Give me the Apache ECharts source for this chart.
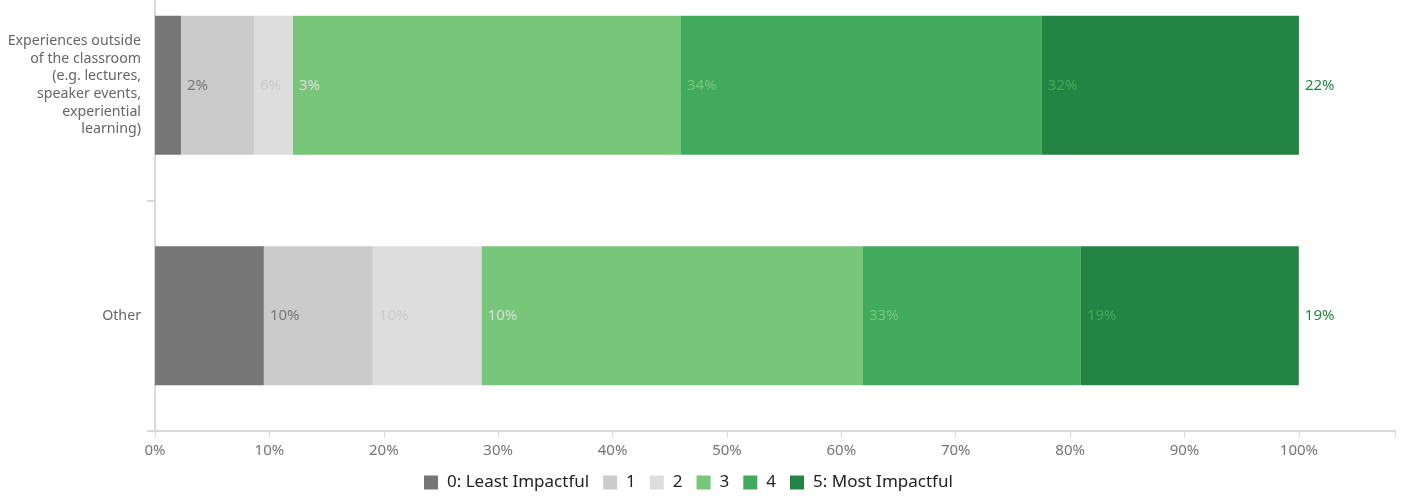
<!DOCTYPE html>
<html>
<head>
<meta charset="utf-8">
<script src="https://cdn.jsdelivr.net/npm/echarts@6/dist/echarts.min.js"></script>
<style>html,body{margin:0;padding:0;background:#fff}#c{width:1406px;height:497px}</style>
</head>
<body>
<div id="c"></div>
<script>
const categories = ['Experiences outside\nof the classroom\n(e.g. lectures,\nspeaker events,\nexperiential\nlearning)', 'Other'];
const seriesNames = ['0: Least Impactful', '1', '2', '3', '4', '5: Most Impactful'];
const colors = ['#767676', '#cbcbcb', '#dddddd', '#78c67a', '#41aa5c', '#238443'];
const s0 = [2.27, 9.52];
const s1 = [6.38, 9.52];
const s2 = [3.41, 9.52];
const s3 = [33.92, 33.33];
const s4 = [31.55, 19.05];
const s5 = [22.47, 19.05];
const values = [s0, s1, s2, s3, s4, s5];
const xTicks = [0, 10, 20, 30, 40, 50, 60, 70, 80, 90, 100];

const font = 'Noto Sans';
const chart = echarts.init(document.getElementById('c'));
chart.setOption({
  animation: false,
  textStyle: { fontFamily: font },
  legend: {
    bottom: 6,
    left: 424,
    padding: 0,
    itemWidth: 14,
    itemHeight: 14,
    itemGap: 14,
    icon: 'rect',
    textStyle: { fontSize: 17, color: '#222', fontFamily: font, padding: [0, 0, 0, 4] }
  },
  grid: { left: 155, right: 11, top: -30, bottom: 66, outerBoundsMode: 'none' },
  xAxis: {
    type: 'value',
    min: 0,
    max: 108.4,
    interval: 10,
    splitLine: { show: false },
    axisLine: { show: true, lineStyle: { color: '#d9d9d9', width: 2 } },
    axisTick: { show: true, length: 7, lineStyle: { color: '#d9d9d9' } },
    axisLabel: {
      color: '#757575', fontSize: 15, margin: 12, fontFamily: font,
      formatter: v => (xTicks.indexOf(v) >= 0 ? v + '%' : '')
    }
  },
  yAxis: {
    type: 'category',
    inverse: true,
    data: categories,
    axisLine: { show: true, lineStyle: { color: '#d9d9d9', width: 2 } },
    axisTick: { show: true, length: 8, lineStyle: { color: '#d9d9d9', width: 2 } },
    axisLabel: { color: '#666', fontSize: 14.2, lineHeight: 17.6, margin: 14, align: 'right', fontFamily: font }
  },
  series: values.map((v, i) => ({
    name: seriesNames[i],
    type: 'bar',
    stack: 'total',
    barWidth: 139,
    data: v,
    itemStyle: { color: colors[i] },
    label: {
      show: true,
      position: 'right',
      distance: 6,
      color: colors[i],
      fontSize: 15,
      fontFamily: font,
      formatter: p => Math.round(p.value) + '%'
    }
  }))
});
</script>
</body>
</html>
